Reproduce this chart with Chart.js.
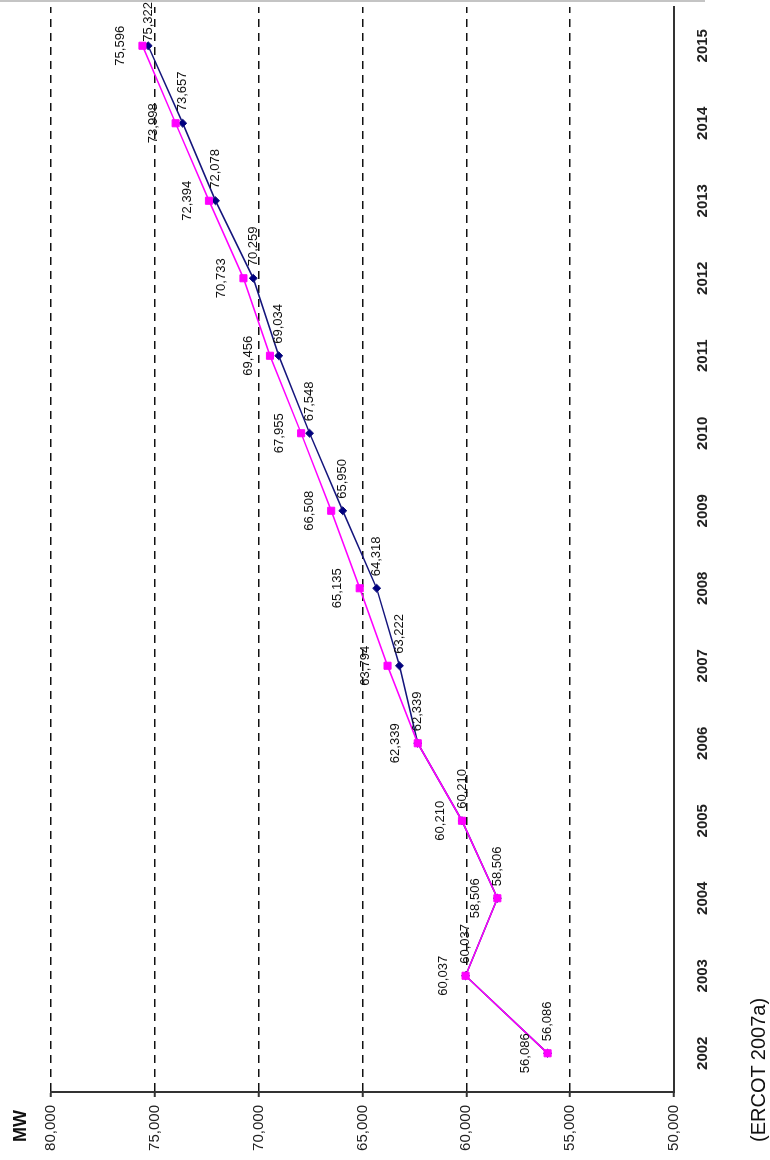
<!DOCTYPE html>
<html>
<head>
<meta charset="utf-8">
<script src="https://cdn.jsdelivr.net/npm/chart.js@4/dist/chart.umd.min.js"></script>
<style>
  body { margin: 0; background: #fff; }
  /* the chart is drawn landscape and turned a quarter turn to the left */
  #wrap {
    position: absolute; left: 0; top: 0;
    width: 1160px; height: 770px;
    transform-origin: 0 0;
    transform: translate(0, 1160px) rotate(-90deg);
    background: #fff;
  }
  #chart { position: absolute; left: 0; top: 0; }
  .txt { position: absolute; font-family: "Liberation Sans", Arial, sans-serif; color: #111; white-space: nowrap; }
  #edge { position: absolute; left: 1158px; top: 0; width: 2px; height: 705px; background: #c4c4c4; }
</style>
</head>
<body>
<div id="wrap">
  <canvas id="chart" width="1160" height="770" style="width:1160px;height:770px"></canvas>
  <div class="txt" style="left:18px;top:10px;font-size:18px;line-height:20px;font-weight:bold">MW</div>
  <div class="txt" style="left:18px;top:747px;font-size:20px;line-height:22px">(ERCOT 2007a)</div>
  <div id="edge"></div>
</div>
<script>
const years = ["2002", "2003", "2004", "2005", "2006", "2007", "2008", "2009", "2010", "2011", "2012", "2013", "2014", "2015"];
// magenta series (squares)
const pinkMW = [56086, 60037, 58506, 60210, 62339, 63794, 65135, 66508, 67955, 69456, 70733, 72394, 73998, 75596];
// navy series (diamonds)
const navyMW = [56086, 60037, 58506, 60210, 62339, 63222, 64318, 65950, 67548, 69034, 70259, 72078, 73657, 75322];
const mwMin = 50000, mwMax = 80000, mwStep = 5000;

const FONT = '"Liberation Sans", Arial, sans-serif';
const fmt = v => v.toLocaleString("en-US");

// value labels next to each point
const pointLabels = {
  id: "pointLabels",
  afterDatasetsDraw(chart) {
    const ctx = chart.ctx;
    ctx.save();
    ctx.font = "13px " + FONT;
    ctx.fillStyle = "#111";
    ctx.textBaseline = "middle";
    ctx.textAlign = "center";
    chart.getDatasetMeta(0).data.forEach((p, i) => {
      ctx.fillText(fmt(pinkMW[i]), p.x, p.y - 22);
    });
    ctx.textAlign = "left";
    chart.getDatasetMeta(1).data.forEach((p, i) => {
      const t = fmt(navyMW[i]);
      const w = ctx.measureText(t).width;
      ctx.fillText(t, Math.min(p.x + 12, chart.width - 2 - w), p.y);
    });
    ctx.restore();
  }
};

new Chart(document.getElementById("chart"), {
  type: "line",
  data: {
    labels: years,
    datasets: [
      {
        label: "pink",
        data: pinkMW,
        borderColor: "#ff00ff",
        backgroundColor: "#ff00ff",
        borderWidth: 1.5,
        pointStyle: "rect",
        pointRadius: 5,
        pointBorderWidth: 1,
        tension: 0
      },
      {
        label: "navy",
        data: navyMW,
        borderColor: "#14147c",
        backgroundColor: "#000080",
        borderWidth: 1.5,
        pointStyle: "rectRot",
        pointRadius: 4,
        pointBorderWidth: 1,
        tension: 0
      }
    ]
  },
  options: {
    responsive: false,
    animation: false,
    devicePixelRatio: 1,
    layout: { padding: { top: 51, right: 7, left: 0, bottom: 0 } },
    plugins: { legend: { display: false }, tooltip: { enabled: false } },
    scales: {
      x: {
        offset: true,
        grid: { display: false },
        border: { display: true, color: "#333", width: 2 },
        ticks: { font: { family: FONT, size: 15, weight: "bold" }, color: "#222", padding: 12, maxRotation: 0, autoSkip: false },
        afterFit: s => { s.height = 96; }
      },
      y: {
        min: mwMin,
        max: mwMax,
        grid: { color: "#111", lineWidth: 1.5, tickLength: 5, tickColor: "#333", tickWidth: 2 },
        border: { display: true, color: "#333", width: 2, dash: [8, 6] },
        ticks: { stepSize: mwStep, font: { family: FONT, size: 15 }, color: "#222", padding: 8, callback: v => fmt(v) },
        afterFit: s => { s.width = 68; }
      }
    }
  },
  plugins: [pointLabels]
});
</script>
</body>
</html>
